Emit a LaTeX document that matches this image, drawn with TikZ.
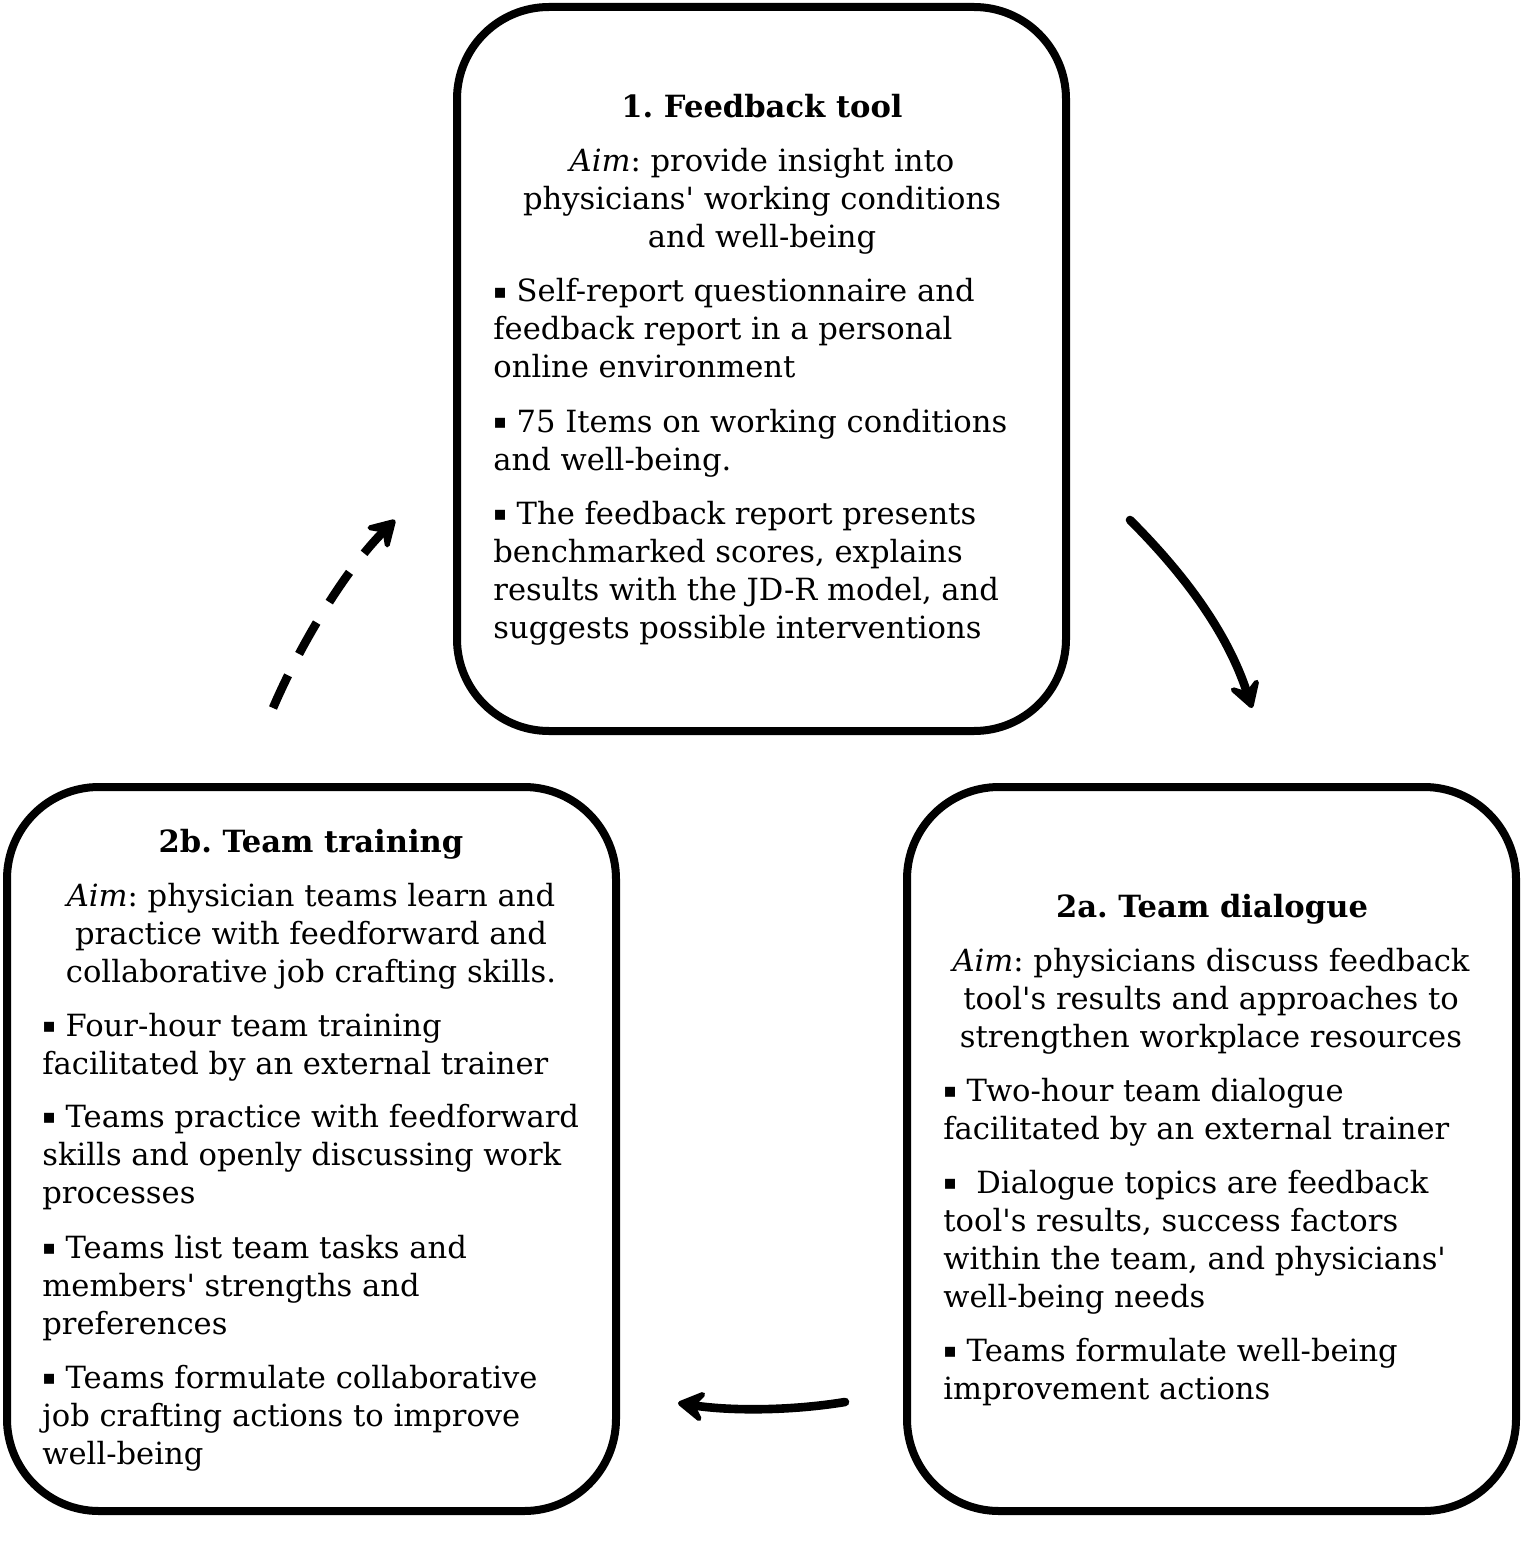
\documentclass[tikz,border=0pt]{standalone}
\usepackage{fontspec}
\setmainfont{DejaVu Serif}[Ligatures=TeXOff]
\newfontfamily\symfont{DejaVu Sans}
\usetikzlibrary{arrows.meta}
\newcommand{\blt}{\raisebox{0.25ex}{\symfont\fontsize{10}{10}\selectfont ▪}\ }
\frenchspacing

\begin{document}
\begin{tikzpicture}[x=0.5pt, y=-0.5pt,
                panel/.style={draw, line width=4pt, rounded corners=46pt,
                    minimum width=304.5pt, minimum height=362pt},
                txt/.style={inner sep=0pt, font=\fontsize{15.3}{19}\selectfont},
                title/.style={txt, anchor=base, font=\fontsize{15.3}{19}\selectfont\bfseries},
                aimtxt/.style={txt, anchor=base, align=center},
                bullet/.style={txt, anchor=base west, align=left},
                arr/.style={-{Stealth[length=17pt, width=20pt, inset=7pt, round]}, line width=4.3pt, line cap=round}]
\useasboundingbox (0,0) rectangle (1524,1556);
% boxes
\node[panel] (fb) at (761.5,369) {};
\node[panel] (tt) at (311.5,1149) {};
\node[panel] (td) at (1211.5,1149) {};
% 1. feedback tool (nodes sit on the baseline of their last line)
\node[title] (fbtitle) at (762,118) {1. Feedback tool};
\node[aimtxt] (fbaim) at (762,248) {\emph{Aim}: provide insight into\\physicians' working conditions\\and well-being};
\node[bullet] (fbb1) at (493,378) {\blt Self-report questionnaire and\\feedback report in a personal\\online environment};
\node[bullet] (fbb2) at (493,470) {\blt 75 Items on working conditions\\and well-being.};
\node[bullet] (fbb3) at (493,638) {\blt The feedback report presents\\benchmarked scores, explains\\results with the JD-R model, and\\suggests possible interventions};
% 2b. team training
\node[title] (tttitle) at (311,852) {2b. Team training};
\node[aimtxt] (ttaim) at (311,982) {\emph{Aim}: physician teams learn and\\practice with feedforward and\\collaborative job crafting skills.};
\node[bullet] (ttb1) at (42,1074) {\blt Four-hour team training\\facilitated by an external trainer};
\node[bullet] (ttb2) at (42,1203) {\blt Teams practice with feedforward\\skills and openly discussing work\\processes};
\node[bullet] (ttb3) at (42,1334) {\blt Teams list team tasks and\\members' strengths and\\preferences};
\node[bullet] (ttb4) at (42,1464) {\blt Teams formulate collaborative\\job crafting actions to improve\\well-being};
% 2a. team dialogue
\node[title] (tdtitle) at (1212,917) {2a. Team dialogue};
\node[aimtxt] (tdaim) at (1211,1047) {\emph{Aim}: physicians discuss feedback\\tool's results and approaches to\\strengthen workplace resources};
\node[bullet] (tdb1) at (943,1139) {\blt Two-hour team dialogue\\facilitated by an external trainer};
\node[bullet] (tdb2) at (943,1307) {\blt\ Dialogue topics are feedback\\tool's results, success factors\\within the team, and physicians'\\well-being needs};
\node[bullet] (tdb3) at (943,1399) {\blt Teams formulate well-being\\improvement actions};
% arrows
\coordinate (ttout) at (273,708);
\coordinate (fbin) at (395,520);
\coordinate (fbout) at (1130,520);
\coordinate (tdin) at (1252,708);
\coordinate (tdout) at (845,1402);
\coordinate (ttin) at (678,1403);
\draw[arr, line cap=butt, dash pattern=on 18pt off 12pt] (ttout) .. controls (300,645) and (345,570) .. (fbin);
\draw[arr] (fbout) .. controls (1175,565) and (1225,625) .. (tdin);
\draw[arr] (tdout) .. controls (790,1411) and (730,1411) .. (ttin);
\end{tikzpicture}
\end{document}
